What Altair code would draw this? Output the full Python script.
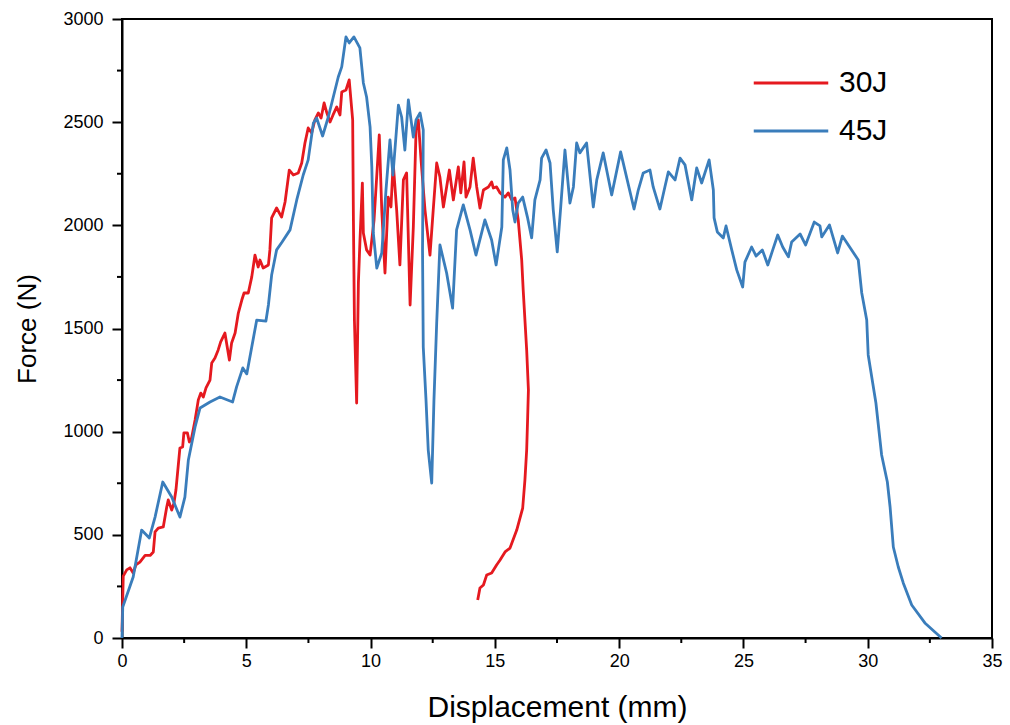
import altair as alt
import pandas as pd

# 30J curve (displacement mm, force N) in recorded order (includes rebound)
x30 = [0.00, 0.05, 0.19, 0.32, 0.45, 0.56, 0.72, 0.93, 1.13, 1.26, 1.33, 1.46, 1.66, 1.80, 1.86, 2.00,
       2.09, 2.17, 2.33, 2.44, 2.49, 2.63, 2.71, 2.80, 2.94, 3.07, 3.17, 3.27, 3.38, 3.54, 3.61, 3.74,
       3.87, 3.97, 4.14, 4.32, 4.41, 4.55, 4.68, 4.82, 4.91, 5.08, 5.22, 5.35, 5.48, 5.55, 5.68, 5.89,
       5.95, 6.02, 6.22, 6.42, 6.56, 6.73, 6.89, 7.09, 7.23, 7.36, 7.49, 7.63, 7.76, 7.90, 8.01, 8.13,
       8.24, 8.37, 8.49, 8.64, 8.77, 8.84, 9.01, 9.14, 9.28, 9.31, 9.35, 9.44, 9.51, 9.57, 9.67, 9.71,
       9.84, 9.98, 10.14, 10.35, 10.45, 10.58, 10.71, 10.82, 10.91, 11.05, 11.18, 11.32, 11.45, 11.59,
       11.72, 11.83, 11.92, 12.03, 12.19, 12.39, 12.52, 12.66, 12.79, 12.93, 13.17, 13.33, 13.53, 13.63,
       13.76, 13.84, 14.00, 14.13, 14.27, 14.40, 14.54, 14.74, 14.87, 14.94, 15.07, 15.21, 15.41, 15.54,
       15.68, 15.81, 15.94, 16.08, 16.14, 16.28, 16.35, 16.32, 16.28, 16.21, 16.12, 15.88, 15.61, 15.41,
       15.21, 15.07, 14.87, 14.67, 14.54, 14.40, 14.31]
f30 = [30, 300, 330, 340, 315, 355, 368, 400, 400, 417, 514, 533, 538, 635, 669, 620,
       654, 717, 921, 926, 994, 994, 950, 969, 1057, 1154, 1187, 1168, 1212, 1250, 1333, 1357,
       1396, 1435, 1478, 1347, 1430, 1478, 1575, 1638, 1672, 1672, 1750, 1856, 1798, 1832, 1793, 1808,
       1881, 2036, 2084, 2040, 2113, 2268, 2244, 2254, 2302, 2399, 2472, 2448, 2511, 2545, 2520, 2593,
       2545, 2501, 2535, 2574, 2535, 2646, 2656, 2705, 2511, 2026, 1541, 1139, 1721, 1915, 2205, 1963,
       1881, 1856, 2026, 2438, 2074, 1769, 2137, 2089, 2302, 2074, 1808, 2220, 2254, 1614,
       1992, 2462, 2511, 2317, 2074, 1856, 2074, 2302, 2234, 2089, 2268, 2123, 2283, 2157,
       2307, 2137, 2186, 2326, 2186, 2084, 2171, 2186, 2210, 2181, 2186, 2157, 2137, 2157,
       2123, 2133, 2026, 1832, 1687, 1396, 1202, 1071, 911, 766, 630, 523, 436, 417,
       378, 354, 315, 305, 257, 242, 184]

# 45J curve
x45 = [0.00, 0.03, 0.45, 0.79, 1.10, 1.33, 1.64, 2.00, 2.33, 2.53, 2.67, 2.94, 3.14, 3.54, 3.94, 4.45,
       4.61, 4.86, 5.02, 5.22, 5.42, 5.79, 5.89, 6.02, 6.22, 6.44, 6.76, 7.03, 7.29, 7.49, 7.70, 7.83,
       8.07, 8.30, 8.50, 8.70, 8.84, 9.01, 9.14, 9.33, 9.57, 9.71, 9.84, 9.98, 10.05, 10.11, 10.25,
       10.45, 10.62, 10.78, 10.90, 11.12, 11.25, 11.38, 11.52, 11.72, 11.83, 11.99, 12.12, 12.09, 12.12,
       12.23, 12.32, 12.46, 12.55, 12.66, 12.79, 13.06, 13.30, 13.46, 13.73, 14.00, 14.24, 14.60, 14.87,
       15.05, 15.28, 15.34, 15.48, 15.61, 15.72, 15.81, 15.94, 16.12, 16.31, 16.48, 16.61, 16.82, 16.88,
       17.06, 17.22, 17.35, 17.51, 17.65, 17.82, 18.02, 18.16, 18.29, 18.42, 18.69, 18.96, 19.10, 19.36,
       19.70, 20.06, 20.60, 20.77, 20.97, 21.24, 21.37, 21.64, 21.84, 21.98, 22.25, 22.45, 22.65, 22.92,
       23.12, 23.32, 23.62, 23.79, 23.82, 23.95, 24.19, 24.30, 24.53, 24.73, 24.97, 25.06, 25.33, 25.51,
       25.76, 25.98, 26.18, 26.38, 26.58, 26.81, 26.94, 27.28, 27.50, 27.85, 28.08, 28.15, 28.46, 28.79,
       28.98, 29.62, 29.76, 29.96, 30.02, 30.33, 30.56, 30.79, 30.90, 31.03, 31.23, 31.43, 31.77, 32.30,
       32.97]
f45 = [0, 150, 296, 523, 485, 586, 756, 683, 586, 683, 863, 1023, 1115, 1144, 1168, 1144,
       1217, 1309, 1280, 1410, 1541, 1536, 1614, 1759, 1881, 1919, 1978, 2123, 2244, 2317, 2496, 2520,
       2433, 2525, 2622, 2719, 2768, 2913, 2884, 2913, 2860, 2690, 2622, 2477, 2283, 1963, 1793,
       1866, 2171, 2414, 2244, 2583, 2525, 2365, 2608, 2428, 2511, 2545, 2462, 1881, 1410,
       1154, 911, 751, 1154, 1527, 1905, 1769, 1599, 1978, 2099, 1978, 1856, 2026, 1929,
       1808, 1992, 2317, 2375, 2268, 2074, 2016, 2108, 2137, 2040, 1939, 2123, 2220, 2326,
       2365, 2302, 2074, 1871, 2089, 2365, 2108, 2186, 2399, 2351, 2399, 2089, 2220, 2351,
       2147, 2356, 2079, 2171, 2254, 2268, 2186, 2079, 2186, 2259, 2220, 2326, 2293, 2123,
       2278, 2205, 2317, 2171, 2036, 1968, 1939, 1997, 1881, 1784, 1701, 1822, 1895, 1851,
       1881, 1808, 1881, 1953, 1895, 1847, 1919, 1958, 1905, 2016, 1997, 1944, 2002, 1866,
       1948, 1832, 1672, 1541, 1372, 1139, 887, 756, 635, 441, 344, 267, 160, 73,
       0]

series_names = ["30J", "45J"]
series_colors = ["#E5191F", "#3A7DBB"]

x_major = [0, 5, 10, 15, 20, 25, 30, 35]
x_minor = [2.5, 7.5, 12.5, 17.5, 22.5, 27.5, 32.5]
y_major = [0, 500, 1000, 1500, 2000, 2500, 3000]
y_minor = [250, 750, 1250, 1750, 2250, 2750]

rows = []
for i, (a, b) in enumerate(zip(x30, f30)):
    rows.append({"series": "30J", "x": a, "f": b, "i": i})
for i, (a, b) in enumerate(zip(x45, f45)):
    rows.append({"series": "45J", "x": a, "f": b, "i": i})
df = pd.DataFrame(rows)

FONT = "Liberation Sans"
H = 619

xscale = alt.Scale(domain=[0, 35], nice=False, zero=False)
yscale = alt.Scale(domain=[0, 3000], nice=False)

x_axis = alt.Axis(title="Displacement (mm)", values=x_major, tickSize=10,
                  labelFlush=False, labelPadding=4, titlePadding=22,
                  titleFontSize=30, grid=False)
y_axis = alt.Axis(title="Force (N)", values=y_major, tickSize=10,
                  labelFlush=False, labelPadding=9, titlePadding=22,
                  titleFontSize=26, grid=False, format="d")

lines = alt.Chart(df).mark_line(strokeWidth=2.8, strokeJoin="round").encode(
    x=alt.X("x:Q", scale=xscale, axis=x_axis),
    y=alt.Y("f:Q", scale=yscale, axis=y_axis),
    color=alt.Color("series:N", scale=alt.Scale(domain=series_names, range=series_colors),
                    legend=alt.Legend(title=None, orient="none", legendX=630, legendY=49,
                                      symbolType="stroke", symbolSize=5550, symbolStrokeWidth=2.8,
                                      clipHeight=30, rowPadding=18, labelOffset=9,
                                      labelFontSize=30, labelFont=FONT, labelColor="black", padding=0)),
    order=alt.Order("i:Q"),
)

ymin_df = pd.DataFrame({"f": y_minor})
xmin_df = pd.DataFrame({"x": x_minor})

y_minor_ticks = alt.Chart(ymin_df).mark_rule(color="black", strokeWidth=2, clip=False).encode(
    y=alt.Y("f:Q", scale=yscale, axis=y_axis),
    x=alt.value(-5), x2=alt.value(0),
)
x_minor_ticks = alt.Chart(xmin_df).mark_rule(color="black", strokeWidth=2, clip=False).encode(
    x=alt.X("x:Q", scale=xscale, axis=x_axis),
    y=alt.value(H), y2=alt.value(H + 5),
)

chart = alt.layer(lines, y_minor_ticks, x_minor_ticks).properties(
    width=870, height=H,
    background="white",
    autosize=alt.AutoSizeParams(type="none"),
    padding={"left": 122, "top": 19, "right": 18, "bottom": 87},
).configure_view(
    stroke="black", strokeWidth=2
).configure_axis(
    domainColor="black", domainWidth=2, tickColor="black", tickWidth=2,
    labelFont=FONT, labelFontSize=18, labelColor="black",
    titleFont=FONT, titleFontWeight="normal", titleColor="black",
)

chart.save("out.html", embed_options={"renderer": "svg", "actions": False})
